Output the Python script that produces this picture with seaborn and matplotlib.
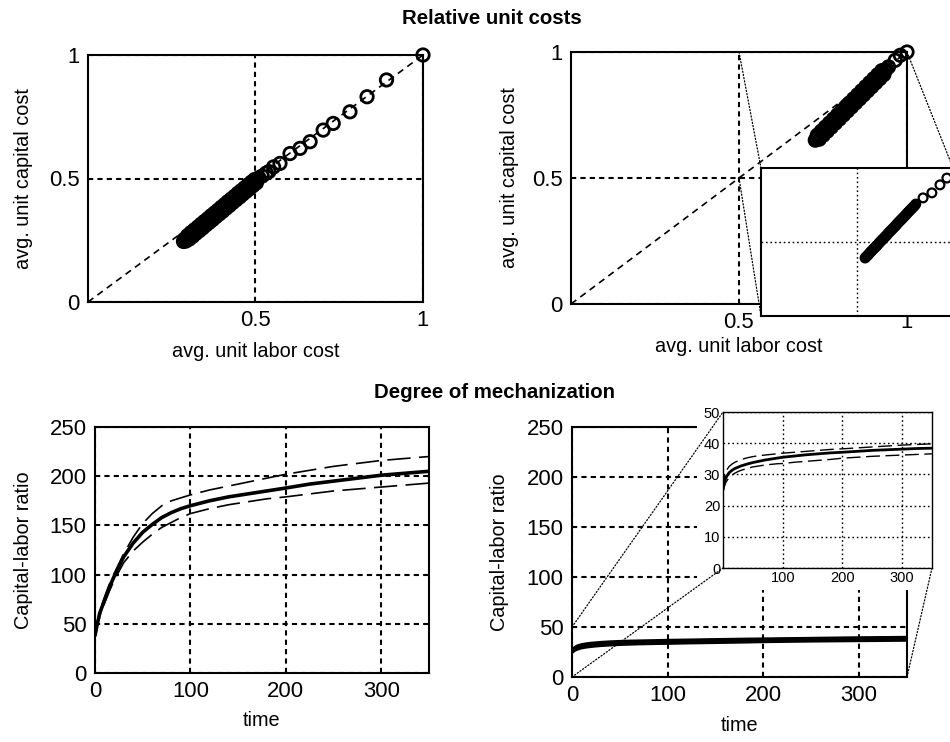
import matplotlib
matplotlib.use("Agg")
import matplotlib.pyplot as plt
import seaborn as sns
from matplotlib.patches import ConnectionPatch, Rectangle
from matplotlib import font_manager

# ---------------- data ----------------
diag_x = [0.0, 1.0]
diag_y = [0.0, 1.0]

tl_labor = [0.285, 0.290, 0.295, 0.300, 0.305, 0.310, 0.315, 0.320, 0.325, 0.330,
            0.335, 0.340, 0.345, 0.350, 0.355, 0.360, 0.365, 0.370, 0.375, 0.380,
            0.385, 0.390, 0.395, 0.400, 0.405, 0.410, 0.415, 0.420, 0.425, 0.430,
            0.435, 0.440, 0.445, 0.450, 0.455, 0.460, 0.465, 0.470, 0.475, 0.480,
            0.485, 0.490, 0.495, 0.500, 0.505,
            0.2875, 0.2925, 0.2975, 0.3025, 0.3075, 0.3125, 0.3175, 0.3225, 0.3275,
            0.3325, 0.3375, 0.3425, 0.3475, 0.3525, 0.3575, 0.3625, 0.3675, 0.3725,
            0.3775, 0.3825, 0.3875, 0.3925, 0.3975, 0.4025, 0.4075, 0.4125, 0.4175,
            0.4225, 0.4275, 0.4325, 0.4375, 0.4425, 0.4475, 0.4525, 0.4575, 0.4625,
            0.4675, 0.4725, 0.4775, 0.4825, 0.4875, 0.4925, 0.4975, 0.5025,
            0.510, 0.520, 0.532,
            0.540, 0.554, 0.573, 0.603, 0.633, 0.663, 0.702, 0.732,
            0.782, 0.833, 0.891, 1.000]
tl_capital = [0.245, 0.251, 0.256, 0.262, 0.268, 0.273, 0.279, 0.285, 0.290, 0.296,
              0.302, 0.308, 0.313, 0.319, 0.325, 0.330, 0.336, 0.342, 0.347, 0.353,
              0.359, 0.364, 0.370, 0.376, 0.381, 0.387, 0.393, 0.398, 0.404, 0.410,
              0.415, 0.421, 0.427, 0.432, 0.438, 0.444, 0.450, 0.455, 0.461, 0.467,
              0.472, 0.478, 0.484, 0.489, 0.495,
              0.254, 0.247, 0.269, 0.255, 0.281, 0.266, 0.292, 0.278, 0.303,
              0.289, 0.315, 0.300, 0.326, 0.312, 0.337, 0.323, 0.349, 0.334,
              0.360, 0.346, 0.371, 0.357, 0.383, 0.368, 0.394, 0.380, 0.406,
              0.391, 0.417, 0.403, 0.428, 0.414, 0.440, 0.425, 0.451, 0.437,
              0.462, 0.448, 0.474, 0.459, 0.485, 0.471, 0.496, 0.482,
              0.503, 0.510, 0.522,
              0.528, 0.547, 0.561, 0.601, 0.622, 0.649, 0.696, 0.723,
              0.770, 0.831, 0.899, 1.000]

tr_labor = [0.727, 0.733, 0.739, 0.745, 0.751, 0.757, 0.763, 0.769, 0.775, 0.781,
            0.787, 0.793, 0.799, 0.805, 0.811, 0.817, 0.823, 0.829, 0.835, 0.841,
            0.847, 0.853, 0.859, 0.865, 0.871, 0.877, 0.883, 0.889, 0.895, 0.901,
            0.907, 0.913, 0.919, 0.925, 0.931, 0.937,
            0.730, 0.736, 0.742, 0.748, 0.754, 0.760, 0.766, 0.772, 0.778, 0.784,
            0.790, 0.796, 0.802, 0.808, 0.814, 0.820, 0.826, 0.832, 0.838, 0.844,
            0.850, 0.856, 0.862, 0.868, 0.874, 0.880, 0.886, 0.892, 0.898, 0.904,
            0.910, 0.916, 0.922, 0.928, 0.934,
            0.945, 0.965, 0.980, 1.000]
tr_capital = [0.650, 0.670, 0.654, 0.686, 0.670, 0.702, 0.686, 0.718, 0.702, 0.734,
              0.718, 0.750, 0.734, 0.766, 0.750, 0.782, 0.766, 0.798, 0.782, 0.814,
              0.798, 0.830, 0.814, 0.846, 0.830, 0.862, 0.846, 0.878, 0.862, 0.894,
              0.878, 0.910, 0.894, 0.926, 0.910, 0.930,
              0.654, 0.662, 0.670, 0.678, 0.686, 0.694, 0.702, 0.710, 0.718, 0.726,
              0.734, 0.742, 0.750, 0.758, 0.766, 0.774, 0.782, 0.790, 0.798, 0.806,
              0.814, 0.822, 0.830, 0.838, 0.846, 0.854, 0.862, 0.870, 0.878, 0.886,
              0.894, 0.902, 0.910, 0.918, 0.926,
              0.941, 0.967, 0.987, 1.000]

tri_labor = [0.771, 0.777, 0.783, 0.789, 0.795, 0.801, 0.807, 0.813, 0.819, 0.825,
             0.831, 0.837, 0.843, 0.849, 0.855, 0.861, 0.867, 0.873, 0.879, 0.885,
             0.891, 0.897, 0.903,
             0.774, 0.780, 0.786, 0.792, 0.798, 0.804, 0.810, 0.816, 0.822, 0.828,
             0.834, 0.840, 0.846, 0.852, 0.858, 0.864, 0.870, 0.876, 0.882, 0.888,
             0.894, 0.900,
             0.922, 0.945, 0.966, 0.984]
tri_capital = [0.696, 0.704, 0.713, 0.721, 0.729, 0.737, 0.746, 0.754, 0.762, 0.770,
               0.779, 0.787, 0.795, 0.803, 0.812, 0.820, 0.828, 0.836, 0.845, 0.853,
               0.861, 0.869, 0.878,
               0.700, 0.708, 0.717, 0.725, 0.733, 0.741, 0.750, 0.758, 0.766, 0.774,
               0.783, 0.791, 0.799, 0.807, 0.816, 0.824, 0.832, 0.840, 0.849, 0.857,
               0.865, 0.873,
               0.899, 0.916, 0.943, 0.966]

time = [0, 2, 5, 10, 15, 20, 25, 30, 40, 50, 60, 70, 80, 90, 100, 120, 140, 160,
        180, 200, 225, 250, 275, 300, 325, 350]
bl_mean = [38, 48, 61, 74, 87, 98, 108, 118, 132, 143, 151, 158, 163, 167, 170, 175,
           179, 182, 185, 188, 192, 195, 198, 201, 203, 205]
bl_upper = [38, 50, 63, 77, 90, 101, 111, 121, 138, 152, 162, 170, 175, 178, 181, 186,
            190, 194, 198, 202, 206, 210, 213, 216, 218, 220]
bl_lower = [38, 46, 58, 71, 83, 94, 103, 112, 124, 133, 141, 148, 153, 158, 162, 167,
            171, 174, 177, 179, 182, 185, 187, 189, 191, 193]

br_mean = [25, 27.5, 29, 30.5, 31.3, 31.9, 32.3, 32.7, 33.3, 33.8, 34.2, 34.6, 34.9,
           35.2, 35.5, 35.9, 36.3, 36.6, 36.9, 37.1, 37.4, 37.7, 37.9, 38.1, 38.3, 38.4]
br_upper = [25.5, 29, 31, 32.5, 33.3, 33.9, 34.3, 34.7, 35.3, 35.7, 36, 36.2, 36.4,
            36.6, 36.8, 37.1, 37.4, 37.7, 38, 38.2, 38.5, 38.8, 39.1, 39.4, 39.6, 39.8]
br_lower = [24.5, 26, 27.5, 29, 29.8, 30.4, 30.9, 31.3, 31.9, 32.4, 32.7, 33, 33.2,
            33.4, 33.5, 33.9, 34.2, 34.5, 34.8, 35.2, 35.5, 35.8, 36, 36.2, 36.4, 36.6]

cost_ticks = [0, 0.5, 1]
cost_xticks = [0.5, 1]
time_ticks = [0, 100, 200, 300]
ratio_ticks = [0, 50, 100, 150, 200, 250]
inset_yticks = [0, 10, 20, 30, 40, 50]
inset_xticks = [100, 200, 300]

# ---------------- style ----------------
sns.set_style("white")
names = {f.name for f in font_manager.fontManager.ttflist}
if "Liberation Sans Narrow" in names:
    FAM, k = "Liberation Sans Narrow", 1.0
else:
    FAM, k = "Liberation Sans", 0.84
plt.rcParams["font.family"] = [FAM, "DejaVu Sans"]
plt.rcParams.update({"text.color": "black", "axes.labelcolor": "black",
                     "xtick.color": "black", "ytick.color": "black"})
TICK, LABEL, TITLE, SMALL = 19 * k, 17 * k, 17.5 * k, 12.5 * k

GRID_MAIN = dict(color="black", linestyle=(0, (2.5, 2)), linewidth=1.5)
GRID_INSET = dict(color="black", linestyle=(0, (1.2, 2)), linewidth=1.0)
DOT = dict(color="black", linestyle=(0, (1, 1.6)), linewidth=0.9)

W, H = 950, 742
fig = plt.figure(figsize=(W / 100, H / 100), dpi=100)


def px_axes(l, t, r, b, z=0):
    ax = fig.add_axes([l / W, 1 - b / H, (r - l) / W, (b - t) / H])
    ax.set_zorder(z)
    ax.set_facecolor("white")
    for s in ax.spines.values():
        s.set_visible(True)
        s.set_color("black")
        s.set_linewidth(1.5)
    return ax


def finish(ax, size=TICK, pad=6):
    ax.tick_params(length=0, labelsize=size, colors="black", pad=pad)


def scatter(ax, x, y, s, lw):
    sns.scatterplot(x=x, y=y, ax=ax, marker="o", s=s, facecolor="none",
                    edgecolor="black", linewidth=lw, zorder=3, legend=False,
                    clip_on=False)


# ---------- top-left ----------
ax1 = px_axes(88, 55, 423, 302)
sns.lineplot(x=diag_x, y=diag_y, ax=ax1, color="black", linewidth=1.2,
             linestyle=(0, (4, 3)))
scatter(ax1, tl_labor, tl_capital, 80, 2.0)
ax1.set_xlim(0, 1)
ax1.set_ylim(0, 1)
ax1.set_xticks(cost_xticks, ["0.5", "1"])
ax1.set_yticks(cost_ticks, ["0", "0.5", "1"])
ax1.grid(True, **GRID_MAIN)
finish(ax1)
ax1.set_xlabel("avg. unit labor cost", fontsize=LABEL)
ax1.set_ylabel("avg. unit capital cost", fontsize=LABEL)
ax1.xaxis.set_label_coords(0.5, -0.16)
ax1.yaxis.set_label_coords(-0.163, 0.5)

# ---------- top-right ----------
ax2 = px_axes(571, 52, 907, 304)
sns.lineplot(x=diag_x, y=diag_y, ax=ax2, color="black", linewidth=1.2,
             linestyle=(0, (4, 3)))
scatter(ax2, tr_labor, tr_capital, 80, 2.0)
ax2.set_xlim(0, 1)
ax2.set_ylim(0, 1)
ax2.set_xticks(cost_xticks, ["0.5", "1"])
ax2.set_yticks(cost_ticks, ["0", "0.5", "1"])
ax2.grid(True, **GRID_MAIN)
finish(ax2)
ax2.set_xlabel("avg. unit labor cost", fontsize=LABEL)
ax2.set_ylabel("avg. unit capital cost", fontsize=LABEL)
ax2.xaxis.set_label_coords(0.5, -0.13)
ax2.yaxis.set_label_coords(-0.155, 0.5)

ax2i = px_axes(761, 168, 953, 316, z=2)
scatter(ax2i, tri_labor, tri_capital, 40, 1.6)
ax2i.set_xlim(0.5, 1)
ax2i.set_ylim(0.5, 1)
ax2i.set_xticks([0.75], [""])
ax2i.set_yticks([0.75], [""])
ax2i.grid(True, **GRID_INSET)
finish(ax2i)

for a_pt, b_pt in [((0.5, 1), (0, 1)), ((1, 1), (1, 1)), ((0.5, 0.5), (0, 0))]:
    con = ConnectionPatch(xyA=a_pt, coordsA=ax2.transData, xyB=b_pt,
                          coordsB=ax2i.transAxes, zorder=1.8, **DOT)
    fig.add_artist(con)

# ---------- bottom-left ----------
ax3 = px_axes(95, 427, 429, 673)
sns.lineplot(x=time, y=bl_upper, ax=ax3, color="black", linewidth=1.2,
             linestyle=(0, (14, 5)))
sns.lineplot(x=time, y=bl_lower, ax=ax3, color="black", linewidth=1.2,
             linestyle=(0, (14, 5)))
sns.lineplot(x=time, y=bl_mean, ax=ax3, color="black", linewidth=2.6)
ax3.set_xlim(0, 350)
ax3.set_ylim(0, 250)
ax3.set_xticks(time_ticks, [str(v) for v in time_ticks])
ax3.set_yticks(ratio_ticks, [str(v) for v in ratio_ticks])
ax3.grid(True, **GRID_MAIN)
finish(ax3)
ax3.set_xlabel("time", fontsize=LABEL)
ax3.set_ylabel("Capital-labor ratio", fontsize=LABEL)
ax3.xaxis.set_label_coords(0.5, -0.155)
ax3.yaxis.set_label_coords(-0.185, 0.5)

# ---------- bottom-right ----------
ax4 = px_axes(572, 427, 907, 677)
sns.lineplot(x=time, y=br_upper, ax=ax4, color="black", linewidth=2.0)
sns.lineplot(x=time, y=br_lower, ax=ax4, color="black", linewidth=2.0)
sns.lineplot(x=time, y=br_mean, ax=ax4, color="black", linewidth=2.6)
ax4.set_xlim(0, 350)
ax4.set_ylim(0, 250)
ax4.set_xticks(time_ticks, [str(v) for v in time_ticks])
ax4.set_yticks(ratio_ticks, [str(v) for v in ratio_ticks])
ax4.grid(True, **GRID_MAIN)
finish(ax4)
ax4.set_xlabel("time", fontsize=LABEL)
ax4.set_ylabel("Capital-labor ratio", fontsize=LABEL)
ax4.xaxis.set_label_coords(0.5, -0.155)
ax4.yaxis.set_label_coords(-0.187, 0.5)

fig.add_artist(Rectangle((697 / W, 1 - 590 / H), (935 - 697) / W, (590 - 405) / H,
                         transform=fig.transFigure, facecolor="white",
                         edgecolor="none", zorder=1.5))

ax4i = px_axes(723, 412, 932, 568, z=2)
for a in ax4i.spines.values():
    a.set_linewidth(1.0)
sns.lineplot(x=time, y=br_upper, ax=ax4i, color="black", linewidth=1.0,
             linestyle=(0, (10, 4)))
sns.lineplot(x=time, y=br_lower, ax=ax4i, color="black", linewidth=1.0,
             linestyle=(0, (10, 4)))
sns.lineplot(x=time, y=br_mean, ax=ax4i, color="black", linewidth=2.0)
ax4i.set_xlim(0, 350)
ax4i.set_ylim(0, 50)
ax4i.set_xticks(inset_xticks, [str(v) for v in inset_xticks])
ax4i.set_yticks(inset_yticks, [str(v) for v in inset_yticks])
ax4i.grid(True, **GRID_INSET)
finish(ax4i, size=SMALL, pad=2)
ax4i.set_xlabel("")
ax4i.set_ylabel("")

for a_pt, b_pt in [((0, 50), (0, 1)), ((0, 0), (0, 0)), ((350, 0), (1, 0))]:
    con = ConnectionPatch(xyA=a_pt, coordsA=ax4.transData, xyB=b_pt,
                          coordsB=ax4i.transAxes, zorder=1.8, **DOT)
    fig.add_artist(con)

# ---------- titles ----------
fig.text(492 / W, 1 - 18 / H, "Relative unit costs", ha="center", va="center",
         fontsize=TITLE, fontweight="bold")
fig.text(495 / W, 1 - 393 / H, "Degree of mechanization", ha="center",
         va="center", fontsize=TITLE, fontweight="bold")

fig.savefig("out.png", dpi=100, facecolor="white")
